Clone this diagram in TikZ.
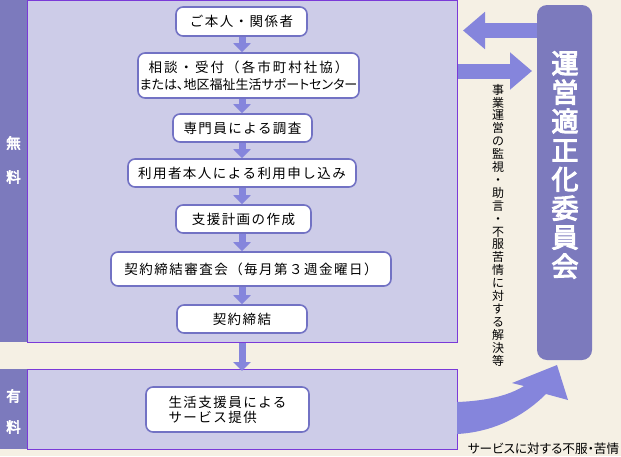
\documentclass[tikz,border=0pt]{standalone}
\usepackage{fontspec}
\setmainfont{Noto Sans CJK JP}
\newfontfamily\jpwide[LetterSpace=11]{Noto Sans CJK JP}
\newfontfamily\jpwider[LetterSpace=15]{Noto Sans CJK JP}
\newfontfamily\jpnarrow[RawFeature=+palt]{Noto Sans CJK JP}
\newfontfamily\jpbold[FakeBold=4]{Noto Sans CJK JP}
\usetikzlibrary{arrows.meta, positioning}

\definecolor{bgcream}{HTML}{F5F0E4}
\definecolor{panelfill}{HTML}{CDCCE8}
\definecolor{stripfill}{HTML}{7C7ABD}
\definecolor{panelline}{HTML}{7A3AD8}
\definecolor{boxline}{HTML}{7272C4}
\definecolor{arrowblue}{HTML}{8585DC}

\tikzset{
  panel/.style={draw=panelline, line width=1.2pt, fill=panelfill, anchor=north west, inner sep=0pt},
  strip/.style={fill=stripfill, anchor=north west, inner sep=0pt},
  flowbox/.style={draw=boxline, line width=1.6pt, fill=white, rounded corners=7pt, inner sep=0pt,
    font=\jpwide\fontsize{13.5}{17}\selectfont},
  downarrow/.style={draw=arrowblue, line width=7pt, -{Triangle[width=17pt,length=9pt]}},
  sidearrow/.style={draw=arrowblue, line width=15pt, -{Triangle[width=36pt,length=22pt]}},
  sidelabel/.style={text=white, font=\jpbold\fontsize{14.5}{14.5}\selectfont},
}

\begin{document}
\begin{tikzpicture}[x=1pt, y=-1pt]

    % Background
    \useasboundingbox (0,0) rectangle (621,456);
    \fill[bgcream] (0,0) rectangle (621,456);

    % Free and paid panels with their side strips
    \node[panel, minimum width=430pt, minimum height=342pt] (freepanel) at (27,0) {};
    \node[panel, minimum width=430pt, minimum height=80pt] (paidpanel) at (27,369) {};
    \node[strip, minimum width=27pt, minimum height=342pt] (freestrip) at (0,0) {};
    \node[strip, minimum width=27pt, minimum height=80pt] (paidstrip) at (0,369) {};
    \draw[panelline, line width=1.2pt] (freestrip.north east) -- (freestrip.south east);
    \draw[panelline, line width=1.2pt] (paidstrip.north east) -- (paidstrip.south east);

    % Strip labels
    \foreach \name/\y/\text in {free1/143/無, free2/177/料, paid1/396/有, paid2/427/料} {
        \node[sidelabel] (\name) at (13.5,\y) {\text};
    }

    % Flow boxes
    \foreach \name/\x/\y/\w/\h/\text in {
        b1/241.5/21.5/131/29/ご本人・関係者,
        b3/242.5/128/139/28/専門員による調査,
        b4/242/173/228/28/利用者本人による利用申し込み,
        b5/243.5/219/135/28/支援計画の作成,
        b6/251/269/280/34/契約締結審査会（毎月第３週金曜日）,
        b7/242/319/130/28/契約締結} {
        \node[flowbox, minimum width=\w pt, minimum height=\h pt] (\name) at (\x,\y) {\text};
    }
    \node[flowbox, minimum width=221pt, minimum height=45pt, align=center] (b2) at (248.5,75.5)
        {{\jpwider 相談・受付（各市町村社協）}\\{\jpnarrow\fontsize{13}{17}\selectfont または、地区福祉生活サポートセンター}};
    \node[flowbox, minimum width=163pt, minimum height=45pt, align=left,
        font=\jpwide\fontsize{13.5}{15}\selectfont] (b8) at (227.5,409.5)
        {生活支援員による\\サービス提供};

    % Down arrows between the steps
    \coordinate (ax) at (242,0);
    \foreach \a/\b in {b1/b2, b2/b3, b3/b4, b4/b5, b5/b6, b6/b7} {
        \draw[downarrow] (\a.south -| ax) -- (\b.north -| ax);
    }
    \draw[downarrow] (freepanel.south -| ax) -- ([yshift=-2pt]paidpanel.north -| ax);

    % Committee
    \node[fill=stripfill, rounded corners=10pt, minimum width=55pt, minimum height=355pt,
        inner sep=0pt] (committee) at (564.5,182.5) {};
    \node[text=white, align=center, font=\jpbold\fontsize{27}{29}\selectfont] (committeetitle)
        at (565,165) {運\\営\\適\\正\\化\\委\\員\\会};

    % Arrows between committee and panel
    \coordinate (lefttip) at (463,30.5);
    \coordinate (righttip) at (532,71);
    \draw[sidearrow] (committee.west |- lefttip) -- (lefttip);
    \draw[sidearrow] (freepanel.east |- righttip) -- (righttip);

    % Monitoring note
    \node[align=center, inner sep=0pt, font=\fontsize{12}{12.9}\selectfont] (monitornote) at (498,225)
        {事\\業\\運\\営\\の\\監\\視\\・\\助\\言\\・\\不\\服\\苦\\情\\に\\対\\す\\る\\解\\決\\等};

    % Curved complaint arrow
    \coordinate (cstart) at (457,402);
    \fill[arrowblue] (cstart) .. controls (485,401) and (508,396) .. (524,386)
        -- (512,383) -- (557,365) -- (568,400) -- (546,394)
        .. controls (525,415) and (495,432) .. (457,434) -- cycle;
    \node[font=\jpnarrow\fontsize{12.6}{12.6}\selectfont, inner sep=0pt] (complaint) at (543.5,449)
        {サービスに対する不服・苦情};

\end{tikzpicture}
\end{document}
